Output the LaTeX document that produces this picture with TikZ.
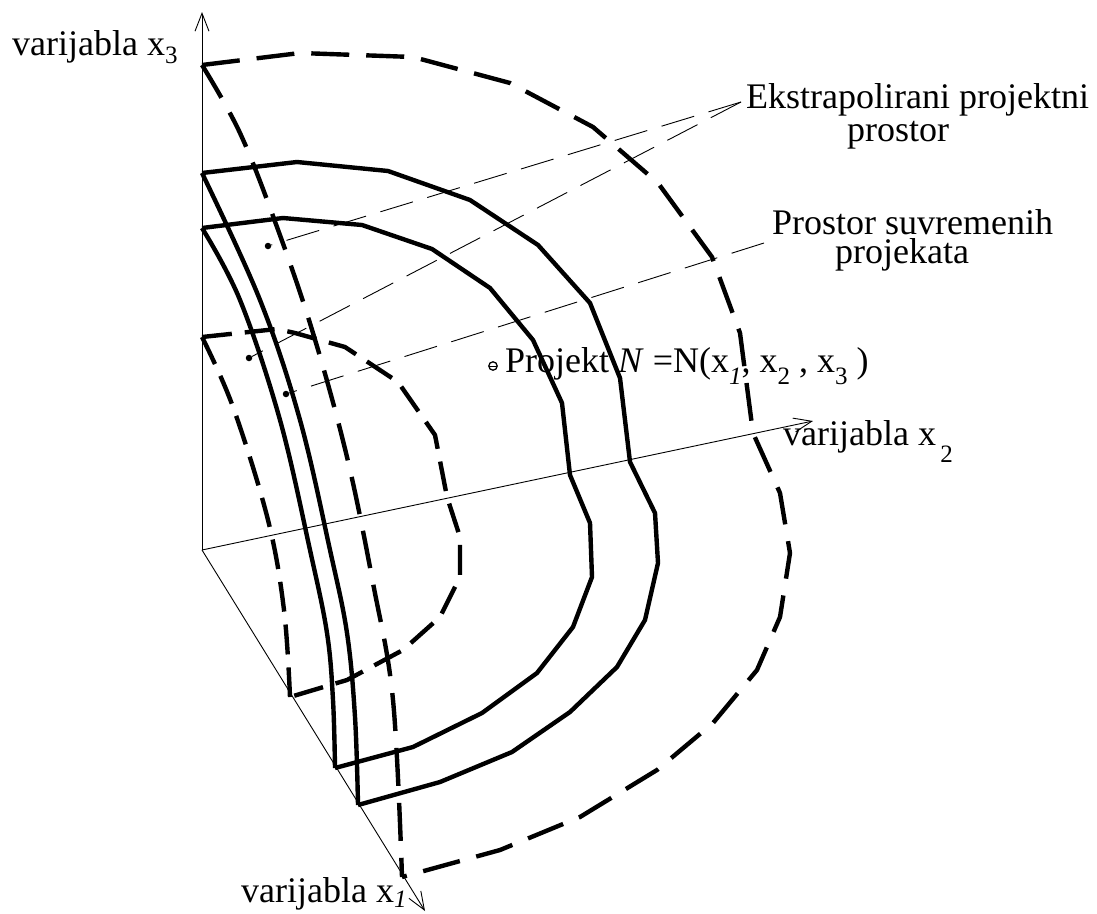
\documentclass[tikz,border=0pt]{standalone}
\usepackage{fontspec}
\setmainfont{Liberation Serif}
\usetikzlibrary{arrows.meta}
\newcommand\lowidx[2]{\raisebox{#1}{\fontsize{25}{25}\selectfont #2}}
\tikzset{
    axis/.style={line width=0.9pt, -{Straight Barb[length=18pt,width=14pt]}},
    shell/.style={line width=4.4pt, line join=round},
    bigdash/.style={shell, dash pattern=on 38pt off 17pt},
    smalldash/.style={shell, dash pattern=on 30pt off 13pt},
    leader/.style={line width=0.9pt, dash pattern=on 34pt off 15pt},
    lbl/.style={font=\fontsize{36}{32}\selectfont, inner sep=0pt},
    dot/.style={circle, fill, inner sep=0pt, minimum size=6.5pt}
}

\begin{document}
\begin{tikzpicture}[x=1pt, y=-1pt]
    \useasboundingbox (0,0) rectangle (1097,913);

    % axes
    \coordinate (o) at (202,550);
    \coordinate (x1end) at (425,911);
    \coordinate (x2end) at (813,421);
    \coordinate (x3end) at (202,12);
    \draw [axis] (o) -- (x1end);
    \draw [axis] (o) -- (x2end);
    \draw [axis] (o) -- (x3end);

    % extrapolated design space (outer, dashed)
    \draw [bigdash] (202,65) -- (300,53) -- (413,57) -- (510,83) -- (593,127) -- (658,183)
        -- (712,257) -- (740,333) -- (753,433) -- (780,493) -- (790,553) -- (780,617)
        -- (757,670) -- (713,723) -- (657,770) -- (580,817) -- (500,850) -- (402,877);
    \draw [bigdash] plot [smooth, tension=0.6] coordinates {(202,65) (240,133) (277,227)
        (313,333) (347,457) (373,583) (393,700) (402,877)};

    % space of current designs (solid)
    \draw [shell] (202,173) -- (297,162) -- (388,171) -- (470,200) -- (538,245) -- (590,303)
        -- (620,378) -- (630,462) -- (655,513) -- (658,563) -- (645,620) -- (617,667)
        -- (570,712) -- (512,752) -- (440,782) -- (358,805);
    \draw [shell] plot [smooth, tension=0.6] coordinates {(202,173) (260,300) (300,420)
        (330,550) (347,633) (355,717) (358,805)};
    \draw [shell] (202,228) -- (283,218) -- (362,225) -- (432,249) -- (490,288) -- (533,340)
        -- (562,403) -- (570,475) -- (590,523) -- (592,577) -- (573,627) -- (537,673)
        -- (482,713) -- (413,747) -- (335,768);
    \draw [shell] plot [smooth, tension=0.6] coordinates {(202,228) (240,300) (280,420)
        (310,550) (327,633) (333,700) (335,768)};

    % inner extrapolated limit (dashed)
    \draw [smalldash] (202,337) -- (277,329) -- (295,333) -- (345,347) -- (398,382) -- (435,435)
        -- (447,497) -- (460,537) -- (460,577) -- (440,617) -- (403,650) -- (347,680) -- (290,697);
    \draw [smalldash] plot [smooth, tension=0.6] coordinates {(202,337) (233,407) (268,520)
        (284,610) (290,697)};

    % labels
    \node [lbl, anchor=base west] (x3lbl) at (12,55) {varijabla x\lowidx{-8pt}{3}};
    \node [lbl, anchor=base west] (x2lbl) at (783,445) {varijabla x\lowidx{-17pt}{\,2}};
    \node [lbl, anchor=base west] (x1lbl) at (241,902) {varijabla x\lowidx{-5pt}{\itshape 1}};
    \node [lbl, anchor=base west] (ekslbl) at (746,108) {Ekstrapolirani projektni};
    \node [lbl, anchor=base west] (ekslbl2) at (847,141) {prostor};
    \node [lbl, anchor=base west] (suvlbl) at (772,234) {Prostor suvremenih};
    \node [lbl, anchor=base west] (suvlbl2) at (835,263) {projekata};

    % design point N
    \draw [line width=1.3pt] (493,366) circle (4.2pt);
    \draw [line width=1pt] (489,366) -- (497,366);
    \node [lbl, anchor=base west] (nlbl) at (505,372)
        {Projekt \textit{N} =N(x\lowidx{-12pt}{\itshape 1}, x\lowidx{-12pt}{2} , x\lowidx{-12pt}{3} )};

    % leaders
    \coordinate (ekspt) at (741,102);
    \coordinate (suvpt) at (764,243);
    \node [dot] (d1) at (268,246) {};
    \node [dot] (d2) at (249,358) {};
    \node [dot] (d3) at (286,394) {};
    \draw [leader] (ekspt) -- (d1);
    \draw [leader] (ekspt) -- (d2);
    \draw [leader] (suvpt) -- (d3);
\end{tikzpicture}
\end{document}
